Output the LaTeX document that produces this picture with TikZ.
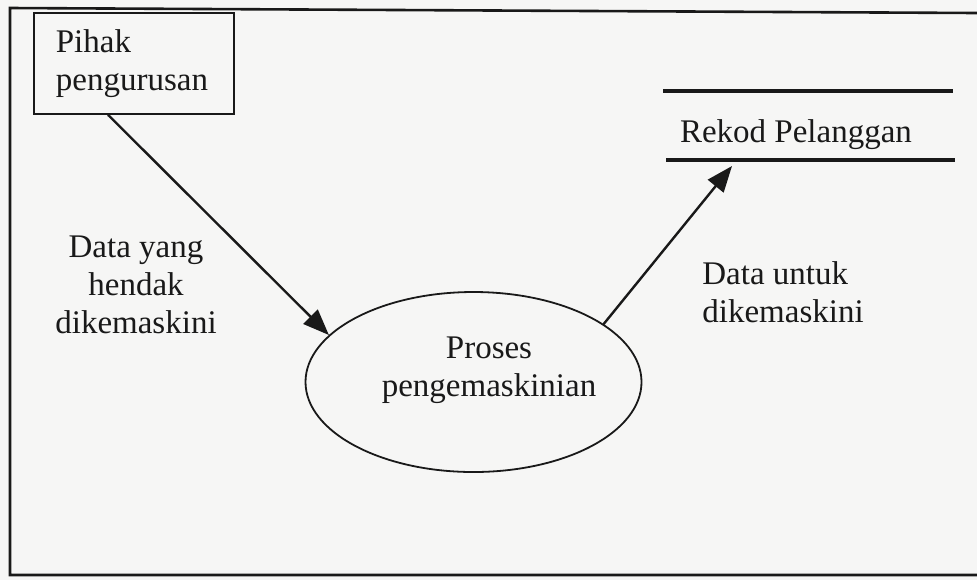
\documentclass[tikz,border=0pt]{standalone}
\usepackage{fontspec}
\setmainfont{Liberation Serif}
\usetikzlibrary{shapes.geometric,arrows.meta,calc}
\definecolor{bgc}{RGB}{246,246,245}
\definecolor{ink}{RGB}{25,25,25}
\begin{document}
\begin{tikzpicture}[x=0.5pt,y=-0.5pt,
  every node/.style={font=\fontsize{16.5}{19}\selectfont, text=ink},
  framel/.style={draw=ink, line width=1.3pt},
  boxl/.style={draw=ink, line width=0.9pt},
  flow/.style={draw=ink, line width=1.2pt, -{Triangle[length=13pt,width=10pt]}},
  storel/.style={draw=ink, line width=1.6pt}]
\fill[bgc] (0,0) rectangle (977,580);
\useasboundingbox (0,0) rectangle (977,580);
% outer frame
\draw[framel] (977,13) -- (10,8) -- (10,575) -- (977,575);
% external entity
\node[boxl, align=left, text width=78pt, inner xsep=11pt, inner ysep=0pt,
      minimum height=50.5pt, anchor=north west] (box) at (33,12)
      {Pihak\\pengurusan};
% process
\node[ellipse, boxl, minimum width=168pt, minimum height=90pt, inner sep=0pt] (proc) at (473.5,382) {};
\node[align=center, inner sep=0pt] (procl) at (489,370) {Proses\\pengemaskinian};
% data store
\node[inner sep=0pt] (store) at (796,135) {Rekod Pelanggan};
\draw[storel] (663,91) -- (953,91);
\draw[storel] (666,160) -- (955,160);
\coordinate (storein) at (732,166);
% labels
\node[align=center, inner sep=0pt] (lab1) at (136,285) {Data yang\\hendak\\dikemaskini};
\node[align=left, inner sep=0pt, anchor=west] (lab2) at (702,292) {Data untuk\\dikemaskini};
% flows
\draw[flow] ($(box.south west)+(75,0)$) -- (proc.162);
\draw[flow] (proc.24) -- (storein);
\end{tikzpicture}
\end{document}
